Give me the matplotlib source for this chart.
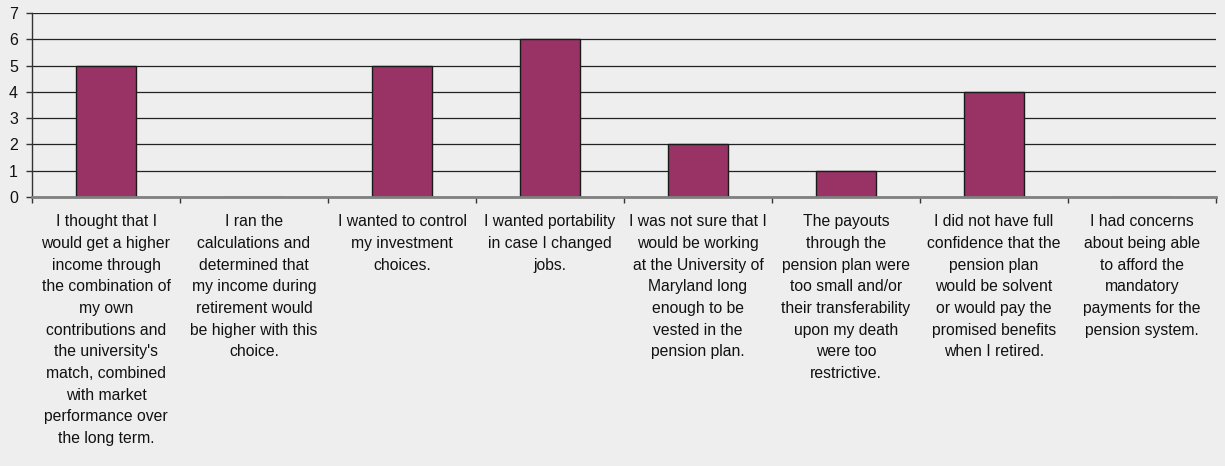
import matplotlib
matplotlib.use("Agg")
import matplotlib.pyplot as plt
import numpy as np

categories = [
    "I thought that I\nwould get a higher\nincome through\nthe combination of\nmy own\ncontributions and\nthe university's\nmatch, combined\nwith market\nperformance over\nthe long term.",
    "I ran the\ncalculations and\ndetermined that\nmy income during\nretirement would\nbe higher with this\nchoice.",
    "I wanted to control\nmy investment\nchoices.",
    "I wanted portability\nin case I changed\njobs.",
    "I was not sure that I\nwould be working\nat the University of\nMaryland long\nenough to be\nvested in the\npension plan.",
    "The payouts\nthrough the\npension plan were\ntoo small and/or\ntheir transferability\nupon my death\nwere too\nrestrictive.",
    "I did not have full\nconfidence that the\npension plan\nwould be solvent\nor would pay the\npromised benefits\nwhen I retired.",
    "I had concerns\nabout being able\nto afford the\nmandatory\npayments for the\npension system.",
]
values = [5, 0, 5, 6, 2, 1, 4, 0]
y_ticks = [0, 1, 2, 3, 4, 5, 6, 7]

plt.rcParams['font.family'] = ['Liberation Sans', 'DejaVu Sans']

bg = "#eeeeee"
fig = plt.figure(figsize=(12.25, 4.66), dpi=100, facecolor=bg)
ax = fig.add_axes([32 / 1225, 1 - 197 / 466, (1216 - 32) / 1225, (197 - 13) / 466])
ax.set_facecolor(bg)

x = np.arange(len(categories))
ax.bar(x, values, width=0.405, color="#993366", edgecolor="#1a1a1a", linewidth=1.0, zorder=3)

ax.set_xlim(-0.5, len(categories) - 0.5)
ax.set_ylim(0, 7)
ax.set_yticks(y_ticks)
ax.yaxis.grid(True, color="#222222", linewidth=0.9, zorder=1)

# category labels centred under each bar, ticks at category boundaries
ax.set_xticks(x)
ax.set_xticklabels(categories, fontsize=11.3, color="#111111", linespacing=1.555, va="top")
ax.tick_params(axis="x", which="major", length=0, pad=12.5)
ax.set_xticks(np.arange(len(categories) + 1) - 0.5, minor=True)
ax.tick_params(axis="x", which="minor", length=4, width=1, color="#333333", direction="out")
ax.tick_params(axis="y", length=4, width=1, color="#333333", labelsize=11.5, labelcolor="#111111", pad=6)

for s in ("top", "right"):
    ax.spines[s].set_visible(False)
ax.spines["left"].set_color("#333333")
ax.spines["left"].set_linewidth(1.0)
ax.spines["bottom"].set_color("#808080")
ax.spines["bottom"].set_linewidth(2.0)
ax.spines["bottom"].set_zorder(4)

fig.savefig("out.png", dpi=100, facecolor=bg)
